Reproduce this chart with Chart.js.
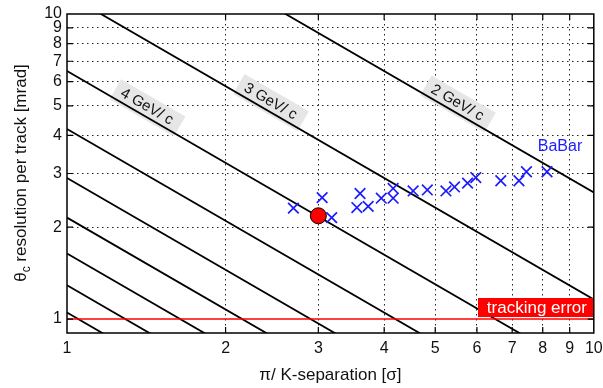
<!DOCTYPE html>
<html><head><meta charset="utf-8">
<script src="https://cdn.jsdelivr.net/npm/chart.js@4"></script>
<style>html,body{margin:0;padding:0;background:#fff}#wrap{width:603px;height:388px}</style>
</head><body><div id="wrap"><canvas id="c" width="603" height="388"></canvas></div>
<script>
// ---- data ----
const xTickValues = [1, 2, 3, 4, 5, 6, 7, 8, 9, 10];
const yTickValues = [1, 2, 3, 4, 5, 6, 7, 8, 9, 10];

// BaBar measurements (pi/K separation [sigma], theta_c resolution per track [mrad])
const babarX = [2.69, 3.05, 3.18, 3.60, 3.55, 3.73, 3.95, 4.16, 4.16, 4.54, 4.83, 5.24, 5.44, 5.76, 5.97, 6.66, 7.21, 7.45, 8.15];
const babarY = [2.31, 2.50, 2.15, 2.58, 2.32, 2.34, 2.49, 2.68, 2.49, 2.63, 2.65, 2.63, 2.71, 2.79, 2.91, 2.84, 2.84, 3.04, 3.04];

// highlighted point
const markX = [3.0];
const markY = [2.18];

// constant-momentum lines: value at x = 1 and at x = 10
const lineMomenta = [2, 3, 4, 5, 6, 7, 8, 9, 10];
const lineStartY = [26.0, 11.6, 6.5, 4.2, 2.9, 2.15, 1.64, 1.29, 1.05];
const lineEndY   = [2.60, 1.16, 0.65, 0.42, 0.29, 0.215, 0.164, 0.129, 0.105];

// labels on lines
const lineLabels = ['2 GeV/ c', '3 GeV/ c', '4 GeV/ c'];
const lineLabelIndex = [0, 1, 2];
const lineLabelAtX = [5.40, 2.385, 1.39];

// tracking error
const trackErrX = [1, 10];
const trackErrY = [1, 1];

// ---- chart ----
const FONT = '"Liberation Sans", Arial, Helvetica, sans-serif';

const datasets = [];
datasets.push({
  label: 'point', data: markX.map((x, i) => ({x, y: markY[i]})),
  pointRadius: 8, pointHoverRadius: 8, backgroundColor: '#ff0000', borderColor: '#000', borderWidth: 1, showLine: false, order: 0
});
datasets.push({
  label: 'BaBar', data: babarX.map((x, i) => ({x, y: babarY[i]})),
  pointStyle: 'crossRot', pointRadius: 7.5, pointBorderWidth: 1.7, borderColor: '#1c1cff', backgroundColor: '#1c1cff', showLine: false, order: 1
});
datasets.push({
  label: 'tracking error', data: trackErrX.map((x, i) => ({x, y: trackErrY[i]})),
  showLine: true, borderColor: '#ff0000', borderWidth: 1.6, pointRadius: 0, order: 2
});
lineMomenta.forEach((p, i) => {
  datasets.push({
    label: p + ' GeV/c', data: [{x: 1, y: lineStartY[i]}, {x: 10, y: lineEndY[i]}],
    showLine: true, borderColor: '#000', borderWidth: 1.8, pointRadius: 0, order: 3
  });
});

const decorPlugin = {
  id: 'decor',
  beforeDatasetsDraw(chart) {
    const {ctx, scales: {x, y}} = chart;
    ctx.save();
    ctx.beginPath();
    ctx.rect(chart.chartArea.left, chart.chartArea.top, chart.chartArea.right - chart.chartArea.left, chart.chartArea.bottom - chart.chartArea.top);
    ctx.clip();
    lineLabels.forEach((txt, k) => {
      const i = lineLabelIndex[k];
      const x0 = x.getPixelForValue(1), y0 = y.getPixelForValue(lineStartY[i]);
      const x1 = x.getPixelForValue(10), y1 = y.getPixelForValue(lineEndY[i]);
      const ang = Math.atan2(y1 - y0, x1 - x0);
      const xv = lineLabelAtX[k];
      const t = Math.log10(xv);
      const yv = lineStartY[i] * Math.pow(lineEndY[i] / lineStartY[i], t);
      const px = x.getPixelForValue(xv), py = y.getPixelForValue(yv);
      ctx.save();
      ctx.translate(px, py);
      ctx.rotate(ang);
      ctx.font = '15px ' + FONT;
      const w = ctx.measureText(txt).width;
      ctx.fillStyle = '#e6e6e6';
      ctx.fillRect(-w / 2 - 7, -20, w + 16, 23);
      ctx.fillStyle = '#111';
      ctx.textAlign = 'center';
      ctx.textBaseline = 'alphabetic';
      ctx.fillText(txt, 0, -5);
      ctx.restore();
    });
    ctx.restore();
  },
  afterDraw(chart) {
    const {ctx, chartArea: a, scales: {x, y}} = chart;
    ctx.save();
    // tracking error box
    ctx.font = '17px ' + FONT;
    ctx.fillStyle = '#ff0000';
    const tb = {l: 478, r: a.right, t: 298, b: y.getPixelForValue(1) - 2};
    ctx.fillRect(tb.l, tb.t, tb.r - tb.l, tb.b - tb.t);
    ctx.fillStyle = '#fff';
    ctx.textAlign = 'center';
    ctx.textBaseline = 'middle';
    ctx.fillText('tracking error', (tb.l + tb.r) / 2 + 1, (tb.t + tb.b) / 2 + 1);

    // BaBar label
    ctx.fillStyle = '#1c1cff';
    ctx.font = '16px ' + FONT;
    ctx.fillText('BaBar', 560, 147);

    // frame
    ctx.strokeStyle = '#000';
    ctx.lineWidth = 1.5;
    ctx.strokeRect(a.left, a.top, a.right - a.left, a.bottom - a.top);
    // inward ticks
    ctx.lineWidth = 1.2;
    ctx.beginPath();
    xTickValues.forEach(v => {
      if (v === 1 || v === 10) return;
      const px = x.getPixelForValue(v);
      ctx.moveTo(px, a.bottom); ctx.lineTo(px, a.bottom - 6);
      ctx.moveTo(px, a.top); ctx.lineTo(px, a.top + 6);
    });
    yTickValues.forEach(v => {
      if (v === 10) return;
      const py = y.getPixelForValue(v);
      ctx.moveTo(a.left, py); ctx.lineTo(a.left + 6, py);
      ctx.moveTo(a.right, py); ctx.lineTo(a.right - 6, py);
    });
    ctx.stroke();

    // axis titles
    ctx.fillStyle = '#111';
    ctx.font = '17px ' + FONT;
    ctx.textAlign = 'center';
    ctx.textBaseline = 'alphabetic';
    ctx.fillText('\u03c0/ K-separation [\u03c3]', (a.left + a.right) / 2, 380);

    ctx.save();
    ctx.translate(20, 173);
    ctx.rotate(-Math.PI / 2);
    const mainFont = '17px ' + FONT, subFont = '12px ' + FONT;
    const p1 = '\u03b8', p2 = 'c', p3 = ' resolution per track [mrad]';
    ctx.font = mainFont; const w1 = ctx.measureText(p1).width, w3 = ctx.measureText(p3).width;
    ctx.font = subFont; const w2 = ctx.measureText(p2).width;
    let sx = -(w1 + w2 + w3) / 2;
    ctx.textAlign = 'left';
    ctx.font = mainFont; ctx.fillText(p1, sx, 6); sx += w1;
    ctx.font = subFont; ctx.fillText(p2, sx, 10); sx += w2;
    ctx.font = mainFont; ctx.fillText(p3, sx, 6);
    ctx.restore();
    ctx.restore();
  }
};

const gridColor = (ctx) => (ctx.tick && (ctx.tick.value === 1 || ctx.tick.value === 10)) ? 'rgba(0,0,0,0)' : '#222';

new Chart(document.getElementById('c'), {
  type: 'scatter',
  data: {datasets},
  options: {
    responsive: false,
    animation: false,
    devicePixelRatio: 1,
    layout: {padding: {left: 0, right: 6, top: 14, bottom: 0}},
    plugins: {legend: {display: false}, tooltip: {enabled: false}},
    scales: {
      x: {
        type: 'logarithmic', min: 1, max: 10,
        afterBuildTicks: (s) => { s.ticks = xTickValues.map(v => ({value: v})); },
        afterFit: (s) => { s.height = 55; s.paddingLeft = 0; s.paddingRight = 0; },
        ticks: {autoSkip: false, maxRotation: 0, padding: 6, color: '#111', font: {family: FONT, size: 16},
          callback: (v) => String(v)},
        grid: {color: gridColor, lineWidth: 1, drawTicks: false},
        border: {display: false, dash: [1.5, 3.5]}
      },
      y: {
        type: 'logarithmic', min: 0.9, max: 10,
        afterBuildTicks: (s) => { s.ticks = yTickValues.map(v => ({value: v})); },
        afterFit: (s) => { s.width = 67; s.paddingTop = 0; s.paddingBottom = 0; },
        ticks: {autoSkip: false, padding: 5, color: '#111', font: {family: FONT, size: 16},
          callback: (v) => String(v)},
        grid: {color: gridColor, lineWidth: 1, drawTicks: false},
        border: {display: false, dash: [1.5, 3.5]}
      }
    }
  },
  plugins: [decorPlugin]
});
</script>
</body></html>
